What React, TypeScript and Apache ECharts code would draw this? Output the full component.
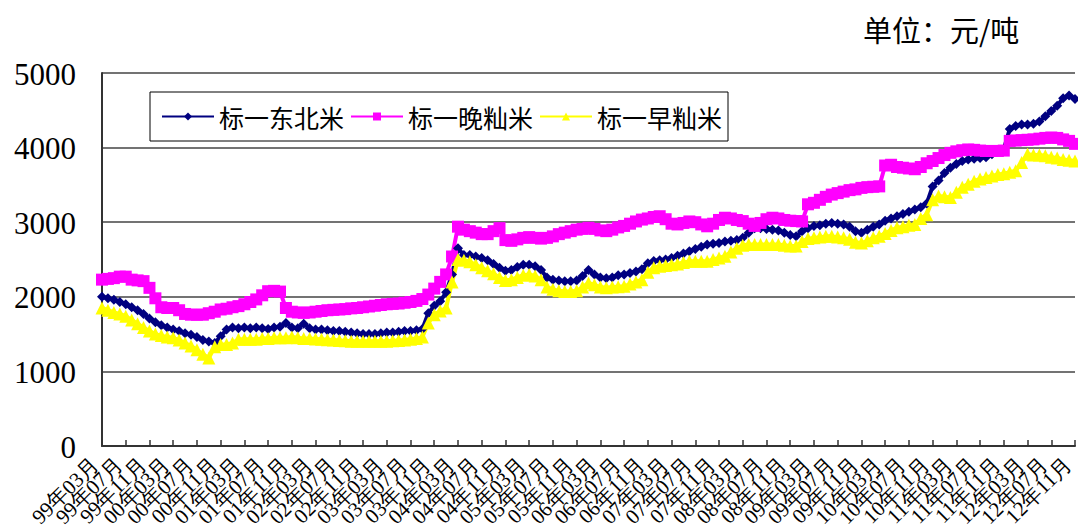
import React, { useEffect, useRef } from "react";
import * as echarts from "echarts";

// Monthly categories: 1999-03 .. 2012-11
const categories: string[] = [];
for (let i = 0; i < 165; i++) {
  const total = 1999 * 12 + 2 + i;
  const y = Math.floor(total / 12);
  const m = (total % 12) + 1;
  categories.push(`${String(y % 100).padStart(2, "0")}年${String(m).padStart(2, "0")}月`);
}
const labelStep = 4; // one tick label every 4 months

const seriesNames = ["标一东北米", "标一晚籼米", "标一早籼米"];

const dongbei = [
  2000, 1980, 1960, 1930, 1900, 1860, 1820, 1770, 1710, 1660,
  1620, 1590, 1560, 1540, 1510, 1490, 1460, 1420, 1400, 1380,
  1470, 1560, 1590, 1580, 1590, 1580, 1590, 1580, 1570, 1590,
  1600, 1650, 1590, 1580, 1640, 1580, 1560, 1560, 1550, 1540,
  1540, 1530, 1520, 1510, 1500, 1500, 1500, 1510, 1520, 1520,
  1530, 1540, 1540, 1550, 1570, 1780, 1880, 1940, 2060, 2300,
  2650, 2560, 2560, 2540, 2520, 2490, 2440, 2390, 2350, 2360,
  2400, 2430, 2430, 2410, 2360, 2260, 2230, 2220, 2210, 2210,
  2220, 2280, 2360, 2300, 2260, 2250, 2260, 2290, 2300, 2320,
  2340, 2370, 2450, 2480, 2490, 2500, 2520, 2550, 2580, 2610,
  2640, 2670, 2700, 2710, 2720, 2740, 2750, 2760, 2790, 2860,
  2920, 2920, 2910, 2900, 2890, 2860, 2830, 2810, 2880, 2920,
  2950, 2960, 2980, 2990, 2980, 2970, 2940, 2880, 2860, 2900,
  2940, 2970, 3020, 3050, 3080, 3110, 3140, 3170, 3200, 3250,
  3480, 3560, 3660, 3730, 3780, 3820, 3840, 3850, 3860, 3870,
  3910, 3950, 3980, 4250, 4290, 4310, 4310, 4320, 4350, 4420,
  4490, 4560, 4660, 4700, 4650,
];

const wanxian = [
  2230, 2240, 2250, 2270, 2270, 2230, 2220, 2210, 2120, 1980,
  1860, 1850, 1850, 1820, 1770, 1760, 1760, 1760, 1780, 1800,
  1830, 1840, 1860, 1875, 1900, 1930, 1965, 2020, 2075, 2080,
  2070, 1850, 1800, 1790, 1785, 1790, 1800, 1810, 1820, 1825,
  1830, 1835, 1845, 1850, 1860, 1870, 1880, 1890, 1900, 1905,
  1910, 1920, 1930, 1945, 1970, 2030, 2110, 2200, 2300, 2540,
  2940, 2900, 2880, 2860, 2840, 2840, 2880, 2920, 2760, 2750,
  2770, 2790, 2800, 2790, 2780, 2790, 2810, 2840, 2860, 2880,
  2900, 2910, 2925, 2910, 2890, 2880, 2900, 2930, 2950, 2980,
  3010, 3035, 3050, 3070, 3080, 3040, 2980, 2970, 2990, 3010,
  3000, 2970, 2945, 2980, 3030, 3060, 3050, 3030, 3015, 2980,
  2950, 2990, 3040, 3060, 3050, 3030, 3020, 3015, 3010, 3240,
  3260, 3300, 3340, 3370, 3390, 3410, 3430, 3440, 3460, 3470,
  3475, 3480, 3760, 3770, 3740, 3730, 3720, 3710, 3740, 3790,
  3820, 3860, 3900, 3930, 3950, 3965, 3975, 3970, 3960, 3955,
  3955, 3955, 3960, 4090, 4095, 4100, 4105, 4110, 4120, 4130,
  4135, 4130, 4110, 4090, 4050,
];

const zaoxian = [
  1850, 1820, 1790, 1770, 1740, 1690, 1640, 1590, 1540, 1500,
  1480, 1460, 1450, 1420, 1380, 1340, 1290, 1230, 1180, 1330,
  1360, 1360, 1380, 1430, 1430, 1430, 1430, 1440, 1440, 1450,
  1450, 1450, 1460, 1450, 1440, 1440, 1435, 1430, 1425, 1420,
  1415, 1410, 1405, 1405, 1405, 1405, 1405, 1405, 1405, 1410,
  1415, 1420, 1430, 1440, 1460, 1650, 1760, 1810, 1850, 2200,
  2500, 2490, 2470, 2430, 2390, 2350, 2310, 2260, 2220, 2230,
  2260, 2290, 2300, 2280, 2230, 2130, 2100, 2080, 2070, 2070,
  2080, 2130, 2185, 2160, 2130, 2120, 2130, 2135, 2140, 2170,
  2200, 2230, 2330, 2390, 2410, 2420, 2430, 2440, 2460, 2475,
  2475, 2475, 2475, 2500, 2520, 2545, 2600, 2650, 2690, 2700,
  2700, 2700, 2700, 2700, 2700, 2690, 2680, 2680, 2740, 2780,
  2790, 2800, 2810, 2810, 2800, 2790, 2770, 2730, 2720, 2750,
  2790, 2810, 2850, 2890, 2925, 2940, 2960, 2970, 3050, 3100,
  3300, 3350, 3340, 3330, 3400, 3470, 3510, 3550, 3580, 3600,
  3620, 3640, 3650, 3670, 3690, 3800, 3910, 3900, 3900, 3890,
  3870, 3860, 3840, 3830, 3820,
];

const yTicks = { min: 0, max: 5000, interval: 1000 };
const unitText = "单位：元/吨";

export default function App() {
  const ref = useRef<HTMLDivElement>(null);
  useEffect(() => {
    document.body.style.margin = "0";
    if (!ref.current) return;
    const chart = echarts.init(ref.current, undefined, { renderer: "svg" });
    const serifFont = '"Liberation Serif", "Times New Roman", serif';
    const cjk = '"Noto Sans CJK SC", sans-serif';
    const mk = (name: string, data: number[], color: string, symbol: string, size: number) => ({
      name,
      type: "line",
      data,
      symbol,
      symbolSize: size,
      showAllSymbol: true,
      itemStyle: { color },
      lineStyle: { color, width: 4 },
    });
    chart.setOption({
      animation: false,
      backgroundColor: "#fff",
      grid: { left: 102, right: 3, top: 73, bottom: 84, containLabel: false },
      legend: {
        left: 150,
        top: 92,
        orient: "horizontal",
        padding: [12, 6, 12, 11],
        itemGap: 6,
        itemWidth: 52,
        itemHeight: 10,
        borderColor: "#000",
        borderWidth: 1,
        textStyle: { fontSize: 25, fontFamily: "Noto Sans CJK SC", color: "#000" },
        data: seriesNames,
      },
      xAxis: {
        type: "category",
        data: categories,
        boundaryGap: false,
        axisLine: { lineStyle: { color: "#333", width: 2 } },
        axisTick: {
          show: true,
          interval: labelStep - 1,
          inside: true,
          length: 6,
          lineStyle: { color: "#333", width: 1.5 },
        },
        axisLabel: { show: false },
        splitLine: { show: false },
      },
      yAxis: {
        type: "value",
        min: yTicks.min,
        max: yTicks.max,
        interval: yTicks.interval,
        axisLine: { show: true, lineStyle: { color: "#333", width: 2 } },
        axisTick: { show: false },
        axisLabel: { show: false },
        splitLine: { lineStyle: { color: "#444", width: 1.5 } },
      },
      series: [
        mk(seriesNames[0], dongbei, "#000080", "diamond", 10),
        mk(seriesNames[1], wanxian, "#FF00FF", "rect", 12),
        mk(seriesNames[2], zaoxian, "#FFFF00", "triangle", 13),
      ],
    });

    // Tick labels placed through the chart's own scales
    const graphics: any[] = [
      {
        type: "text",
        left: 863,
        top: 14,
        style: { text: unitText, font: `29px ${cjk}`, fill: "#000" },
      },
    ];
    const [, axisY] = chart.convertToPixel({ gridIndex: 0 }, [0, 0]) as number[];
    for (let i = 0; i < categories.length; i += labelStep) {
      const px = chart.convertToPixel({ xAxisIndex: 0 }, i) as number;
      graphics.push({
        type: "text",
        x: px - 7,
        y: axisY + 15,
        rotation: Math.PI / 4,
        style: {
          text: categories[i],
          font: `21px ${serifFont}`,
          fill: "#000",
          align: "right",
          verticalAlign: "middle",
        },
      });
    }
    for (let v = yTicks.min; v <= yTicks.max; v += yTicks.interval) {
      const py = chart.convertToPixel({ yAxisIndex: 0 }, v) as number;
      graphics.push({
        type: "text",
        x: 76,
        y: py + 1,
        style: {
          text: String(v),
          font: `31px ${serifFont}`,
          fill: "#000",
          align: "right",
          verticalAlign: "middle",
        },
      });
    }
    chart.setOption({ graphic: graphics });
    return () => chart.dispose();
  }, []);
  return (
    <div
      ref={ref}
      style={{ position: "fixed", left: 0, top: 0, width: 1078, height: 530, background: "#fff" }}
    />
  );
}
